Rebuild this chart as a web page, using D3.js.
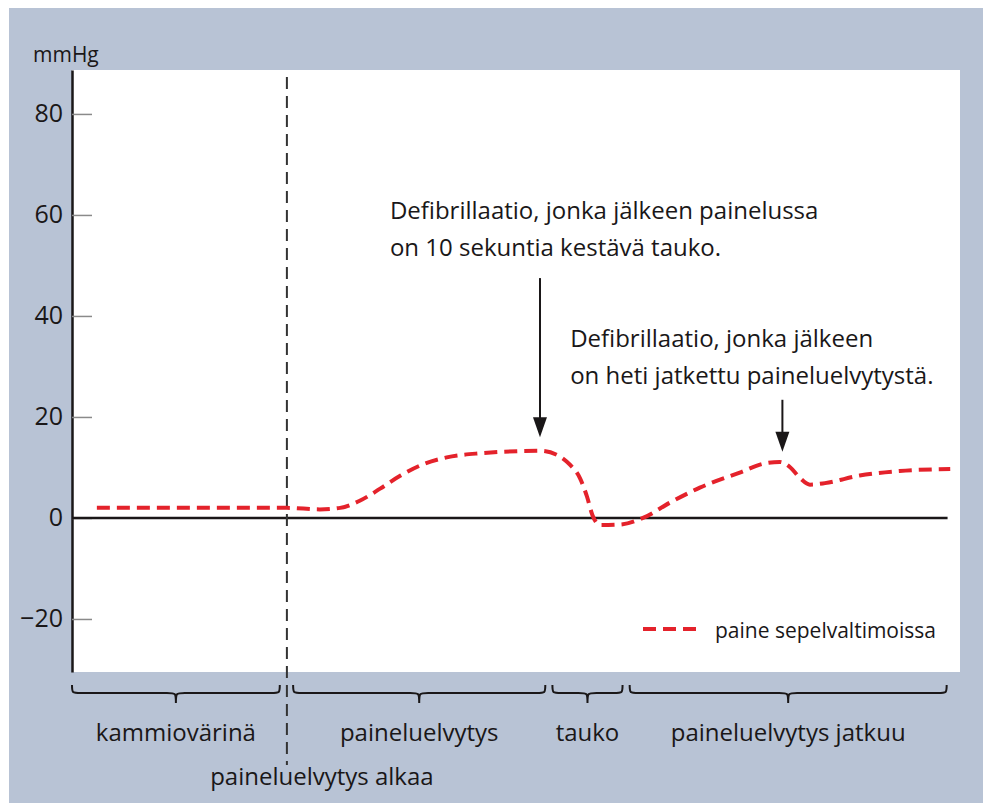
<!DOCTYPE html>
<html>
<head>
<meta charset="utf-8">
<script src="https://cdn.jsdelivr.net/npm/d3@7"></script>
<style>
  body { margin: 0; background: #fff; }
  text { font-family: "Open Sans", "Noto Sans", sans-serif; fill: #1a1718; }
</style>
</head>
<body>
<svg width="983" height="803"></svg>
<script>
/** Data **/
// time (arbitrary units across the recording) and coronary pressure (mmHg)
var time = [2.8, 14.4, 24.2, 27.9, 30.2, 32.4, 34.7, 37.0, 39.5, 42.2, 45.9, 52.7, 54.6, 56.1, 57.2, 58.0, 58.6, 59.5, 61.7, 64.3, 67.3, 70.7, 75.2, 78.0, 79.7, 80.9, 82.0, 83.1, 84.8, 88.7, 93.2, 98.9];
var pressure = [2.0, 2.0, 2.0, 1.7, 2.0, 3.4, 5.8, 8.4, 10.6, 12.0, 12.8, 13.3, 12.5, 10.5, 7.9, 4.2, 0.6, -1.4, -1.3, 0, 3.0, 6.0, 9.0, 10.8, 11.1, 10.0, 7.9, 6.6, 6.9, 8.4, 9.3, 9.7];

var yTicks = [80, 60, 40, 20, 0, -20];

var phaseLabels = ["kammiovärinä", "paineluelvytys", "tauko", "paineluelvytys jatkuu"];
var phaseStart = [0, 24.9, 54.1, 62.8];
var phaseEnd = [23.4, 53.3, 62.0, 98.5];

var cprStart = 24.2;
var cprStartLabel = "paineluelvytys alkaa";

var shockTime = [52.7, 80.0];
var arrowFrom = [47.5, 23.4];
var arrowTo = [16.0, 13.1];
var noteTime = [35.8, 56.1];
var noteValue = [59.2, 33.9];
var noteLines = [
	["Defibrillaatio, jonka jälkeen painelussa", "on 10 sekuntia kestävä tauko."],
	["Defibrillaatio, jonka jälkeen", "on heti jatkettu paineluelvytystä."]
];
var legendLabel = "paine sepelvaltimoissa";

/** Layout **/
var svg = d3.select("svg");
var red = "#e4222b";
var ink = "#1a1718";
var plotLeft = 72, plotRight = 960, plotTop = 70, plotBottom = 672;

var x = d3.scaleLinear().domain([0, 100]).range([plotLeft, plotRight]);
var y = d3.scaleLinear().domain([-30.5, 88.7]).range([plotBottom, plotTop]);

// page background and white plot panel
svg.append("rect").attr("x", 9).attr("y", 8).attr("width", 974).attr("height", 795).attr("fill", "#b8c3d5");
svg.append("rect").attr("x", plotLeft).attr("y", plotTop).attr("width", plotRight - plotLeft).attr("height", plotBottom - plotTop).attr("fill", "#fff");

// y axis: ticks point into the panel, labels on the left
var yAxis = svg.append("g")
	.attr("transform", "translate(" + plotLeft + ",0)")
	.call(d3.axisLeft(y).tickValues(yTicks).tickSizeInner(-20).tickSizeOuter(0).tickPadding(9));
yAxis.select(".domain").attr("stroke", ink).attr("stroke-width", 2.5);
yAxis.selectAll(".tick line").attr("stroke", "#8a8a8a").attr("stroke-width", 1.5);
yAxis.selectAll(".tick text").attr("font-size", 25).attr("font-family", "Open Sans").attr("fill", ink);

svg.append("text").attr("x", 33).attr("y", 62).attr("font-size", 21).text("mmHg");

// zero line
svg.append("line")
	.attr("x1", x(0)).attr("x2", x(98.6))
	.attr("y1", y(0)).attr("y2", y(0))
	.attr("stroke", ink).attr("stroke-width", 2.5);

// start of CPR marker
svg.append("line")
	.attr("x1", x(cprStart)).attr("x2", x(cprStart))
	.attr("y1", 77).attr("y2", 765)
	.attr("stroke", "#333").attr("stroke-width", 2)
	.attr("stroke-dasharray", "12,7");
svg.append("text")
	.attr("x", x(cprStart) + 35).attr("y", 785)
	.attr("text-anchor", "middle").attr("font-size", 24)
	.text(cprStartLabel);

// pressure curve
var points = time.map(function(t, i) { return [t, pressure[i]]; });
var line = d3.line()
	.x(function(d) { return x(d[0]); })
	.y(function(d) { return y(d[1]); })
	.curve(d3.curveMonotoneX);
svg.append("path")
	.datum(points)
	.attr("d", line)
	.attr("fill", "none")
	.attr("stroke", red).attr("stroke-width", 4)
	.attr("stroke-dasharray", "13,7");

// defibrillation arrows and notes
shockTime.forEach(function(t, i) {
	var ax = x(t), y1 = y(arrowFrom[i]), y2 = y(arrowTo[i]);
	svg.append("line")
		.attr("x1", ax).attr("x2", ax)
		.attr("y1", y1).attr("y2", y2 - 12)
		.attr("stroke", ink).attr("stroke-width", 2);
	svg.append("path")
		.attr("d", "M" + (ax - 7) + "," + (y2 - 20) + "L" + (ax + 7) + "," + (y2 - 20) + "L" + ax + "," + y2 + "Z")
		.attr("fill", ink);
	var note = svg.append("text")
		.attr("x", x(noteTime[i])).attr("y", y(noteValue[i]))
		.attr("font-size", 24);
	noteLines[i].forEach(function(s, j) {
		note.append("tspan").attr("x", x(noteTime[i])).attr("dy", j == 0 ? 0 : 37).text(s);
	});
});

// phase braces with labels
function brace(x1, x2, y0) {
	var xm = (x1 + x2) / 2, ym = y0 + 8, yb = y0 + 18;
	return "M" + x1 + "," + y0 +
		"C" + x1 + "," + ym + " " + x1 + "," + ym + " " + (x1 + 9) + "," + ym +
		"L" + (xm - 9) + "," + ym +
		"C" + xm + "," + ym + " " + xm + "," + ym + " " + xm + "," + yb +
		"C" + xm + "," + ym + " " + xm + "," + ym + " " + (xm + 9) + "," + ym +
		"L" + (x2 - 9) + "," + ym +
		"C" + x2 + "," + ym + " " + x2 + "," + ym + " " + x2 + "," + y0;
}
phaseLabels.forEach(function(label, i) {
	var x1 = x(phaseStart[i]), x2 = x(phaseEnd[i]);
	svg.append("path")
		.attr("d", brace(x1, x2, 685))
		.attr("fill", "none").attr("stroke", ink).attr("stroke-width", 2);
	svg.append("text")
		.attr("x", (x1 + x2) / 2).attr("y", 741)
		.attr("text-anchor", "middle").attr("font-size", 24)
		.text(label);
});

// legend
svg.append("line")
	.attr("x1", 643).attr("x2", 697).attr("y1", 629).attr("y2", 629)
	.attr("stroke", red).attr("stroke-width", 4)
	.attr("stroke-dasharray", "13,7");
svg.append("text").attr("x", 715).attr("y", 638).attr("font-size", 21).text(legendLabel);
</script>
</body>
</html>
